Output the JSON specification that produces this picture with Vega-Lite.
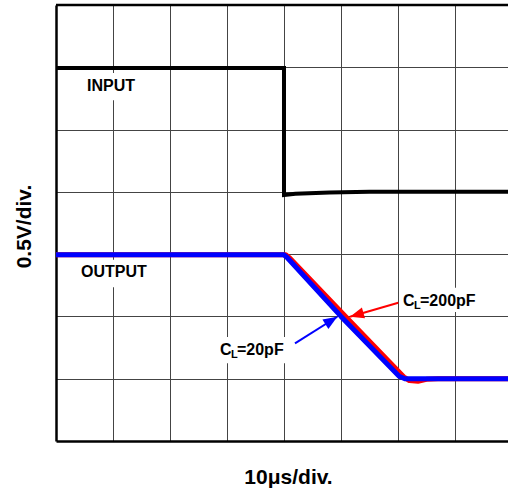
{
  "$schema": "https://vega.github.io/schema/vega-lite/v6.json",
  "width": 452,
  "height": 436,
  "autosize": {"type": "none"},
  "padding": {"left": 56, "top": 5, "right": 0, "bottom": 53},
  "background": "white",
  "config": {"view": {"stroke": null}, "font": "Liberation Sans"},
  "datasets": {
    "traces": [
      {"series": "INPUT", "seq": 1, "t": 0, "v": 5.99},
      {"series": "INPUT", "seq": 2, "t": 4.0, "v": 5.99},
      {"series": "INPUT", "seq": 3, "t": 4.0, "v": 3.95},
      {"series": "INPUT", "seq": 4, "t": 4.2, "v": 3.97},
      {"series": "INPUT", "seq": 5, "t": 4.8, "v": 3.99},
      {"series": "INPUT", "seq": 6, "t": 5.5, "v": 4.0},
      {"series": "INPUT", "seq": 7, "t": 7.93, "v": 4.0},
      {"series": "CL=200pF", "seq": 1, "t": 0, "v": 2.99},
      {"series": "CL=200pF", "seq": 2, "t": 4.03, "v": 2.99},
      {"series": "CL=200pF", "seq": 3, "t": 4.1, "v": 2.94},
      {"series": "CL=200pF", "seq": 4, "t": 5.08, "v": 2.0},
      {"series": "CL=200pF", "seq": 5, "t": 6.1, "v": 1.03},
      {"series": "CL=200pF", "seq": 6, "t": 6.2, "v": 0.97},
      {"series": "CL=200pF", "seq": 7, "t": 6.35, "v": 0.96},
      {"series": "CL=200pF", "seq": 8, "t": 6.5, "v": 0.99},
      {"series": "CL=200pF", "seq": 9, "t": 6.7, "v": 1.0},
      {"series": "CL=200pF", "seq": 10, "t": 7.93, "v": 1.0},
      {"series": "CL=20pF", "seq": 1, "t": 0, "v": 2.99},
      {"series": "CL=20pF", "seq": 2, "t": 4.0, "v": 2.99},
      {"series": "CL=20pF", "seq": 3, "t": 4.05, "v": 2.95},
      {"series": "CL=20pF", "seq": 4, "t": 5.0, "v": 2.0},
      {"series": "CL=20pF", "seq": 5, "t": 6.02, "v": 1.04},
      {"series": "CL=20pF", "seq": 6, "t": 6.12, "v": 1.0},
      {"series": "CL=20pF", "seq": 7, "t": 7.93, "v": 1.0}
    ],
    "boxes": [
      {"x0": 0.42, "x1": 1.47, "y0": 5.47, "y1": 5.91},
      {"x0": 0.33, "x1": 1.74, "y0": 2.47, "y1": 2.91},
      {"x0": 6.04, "x1": 7.44, "y0": 2.07, "y1": 2.46},
      {"x0": 2.79, "x1": 4.14, "y0": 1.25, "y1": 1.67}
    ],
    "arrows": [
      {"series": "CL=200pF", "x0": 6.005, "y0": 2.22, "x1": 5.158, "y1": 1.995, "dir": 254},
      {"series": "CL=20pF", "x0": 4.193, "y0": 1.568, "x1": 4.935, "y1": 1.995, "dir": 58}
    ],
    "texts": [
      {"kind": "big", "text": "INPUT", "x": 0.544, "y": 5.62},
      {"kind": "big", "text": "OUTPUT", "x": 0.44, "y": 2.63},
      {"kind": "big", "text": "C", "x": 6.088, "y": 2.17},
      {"kind": "small", "text": "L", "x": 6.281, "y": 2.119},
      {"kind": "big", "text": "=200pF", "x": 6.386, "y": 2.17},
      {"kind": "big", "text": "C", "x": 2.877, "y": 1.38},
      {"kind": "small", "text": "L", "x": 3.07, "y": 1.332},
      {"kind": "big", "text": "=20pF", "x": 3.175, "y": 1.38}
    ]
  },
  "layer": [
    {
      "data": {"name": "boxes"},
      "mark": {"type": "rect", "fill": "white", "stroke": null},
      "encoding": {
        "x": {
          "field": "x0", "type": "quantitative",
          "scale": {"domain": [0, 7.93], "nice": false, "zero": false},
          "axis": {
            "title": "10μs/div.", "values": [1, 2, 3, 4, 5, 6, 7],
            "labels": false, "ticks": false, "grid": true,
            "gridColor": "#444", "gridWidth": 1, "gridOpacity": 1,
            "domainColor": "#000", "domainWidth": 2.5,
            "titleFont": "Liberation Sans", "titleFontWeight": "bold",
            "titleFontSize": 21, "titleColor": "#000", "titlePadding": 25, "titleX": 232
          }
        },
        "x2": {"field": "x1"},
        "y": {
          "field": "y0", "type": "quantitative",
          "scale": {"domain": [0, 7], "nice": false, "zero": false},
          "axis": {
            "title": "0.5V/div.", "values": [1, 2, 3, 4, 5, 6],
            "labels": false, "ticks": false, "grid": true,
            "gridColor": "#444", "gridWidth": 1, "gridOpacity": 1,
            "domainColor": "#000", "domainWidth": 2.5,
            "titleFont": "Liberation Sans", "titleFontWeight": "bold",
            "titleFontSize": 21, "titleColor": "#000", "titlePadding": 22, "titleY": 221
          }
        },
        "y2": {"field": "y1"}
      }
    },
    {
      "data": {"values": [{"v": 7}]},
      "mark": {"type": "rule", "color": "#000", "strokeWidth": 2.5},
      "encoding": {"y": {"field": "v", "type": "quantitative"}}
    },
    {
      "data": {"name": "traces"},
      "transform": [{"filter": "datum.series === 'CL=200pF'"}],
      "mark": {"type": "line", "color": "#ff0000", "strokeWidth": 5, "strokeJoin": "round"},
      "encoding": {
        "x": {"field": "t", "type": "quantitative"},
        "y": {"field": "v", "type": "quantitative"},
        "order": {"field": "seq"}
      }
    },
    {
      "data": {"name": "traces"},
      "transform": [{"filter": "datum.series === 'CL=20pF'"}],
      "mark": {"type": "line", "color": "#0000ff", "strokeWidth": 5, "strokeJoin": "round"},
      "encoding": {
        "x": {"field": "t", "type": "quantitative"},
        "y": {"field": "v", "type": "quantitative"},
        "order": {"field": "seq"}
      }
    },
    {
      "data": {"name": "traces"},
      "transform": [{"filter": "datum.series === 'INPUT'"}],
      "mark": {"type": "line", "color": "#000000", "strokeWidth": 4, "strokeJoin": "miter"},
      "encoding": {
        "x": {"field": "t", "type": "quantitative"},
        "y": {"field": "v", "type": "quantitative"},
        "order": {"field": "seq"}
      }
    },
    {
      "data": {"name": "arrows"},
      "mark": {"type": "rule", "strokeWidth": 2},
      "encoding": {
        "x": {"field": "x0", "type": "quantitative"},
        "y": {"field": "y0", "type": "quantitative"},
        "x2": {"field": "x1"},
        "y2": {"field": "y1"},
        "color": {"field": "series", "type": "nominal", "scale": {"domain": ["CL=200pF", "CL=20pF"], "range": ["#ff0000", "#0000ff"]}, "legend": null}
      }
    },
    {
      "data": {"name": "arrows"},
      "mark": {"type": "point", "filled": true, "opacity": 1, "shape": "M0,0L0.8,2L-0.8,2Z", "size": 196, "strokeWidth": 0},
      "encoding": {
        "x": {"field": "x1", "type": "quantitative"},
        "y": {"field": "y1", "type": "quantitative"},
        "angle": {"field": "dir", "type": "quantitative", "scale": null},
        "color": {"field": "series", "type": "nominal", "scale": {"domain": ["CL=200pF", "CL=20pF"], "range": ["#ff0000", "#0000ff"]}, "legend": null}
      }
    },
    {
      "data": {"name": "texts"},
      "transform": [{"filter": "datum.kind === 'big'"}],
      "mark": {"type": "text", "font": "Liberation Sans", "fontWeight": "bold", "fontSize": 16, "align": "left", "baseline": "alphabetic", "color": "#000"},
      "encoding": {
        "x": {"field": "x", "type": "quantitative"},
        "y": {"field": "y", "type": "quantitative"},
        "text": {"field": "text"}
      }
    },
    {
      "data": {"name": "texts"},
      "transform": [{"filter": "datum.kind === 'small'"}],
      "mark": {"type": "text", "font": "Liberation Sans", "fontWeight": "bold", "fontSize": 11, "align": "left", "baseline": "alphabetic", "color": "#000"},
      "encoding": {
        "x": {"field": "x", "type": "quantitative"},
        "y": {"field": "y", "type": "quantitative"},
        "text": {"field": "text"}
      }
    }
  ]
}
